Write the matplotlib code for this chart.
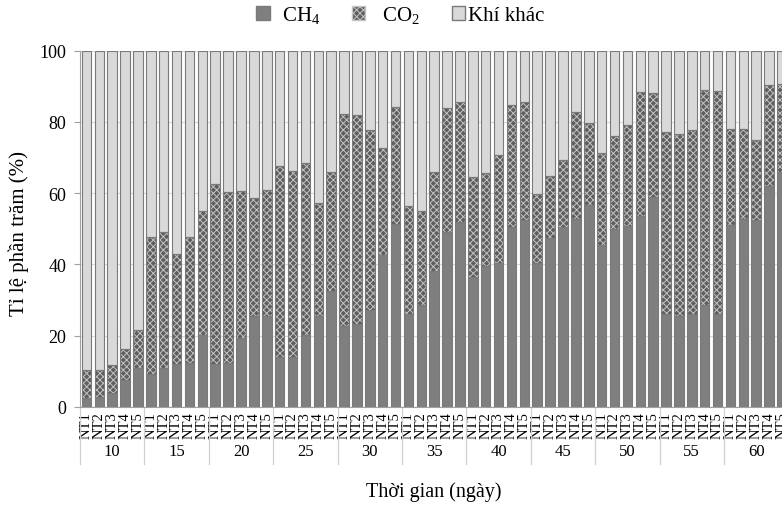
import matplotlib
matplotlib.use("Agg")
import matplotlib.pyplot as plt
import matplotlib.transforms as mtransforms
from matplotlib.patches import Patch
import numpy as np

plt.rcParams['font.family'] = ['Liberation Serif', 'DejaVu Serif']
plt.rcParams['mathtext.fontset'] = 'custom'
plt.rcParams['mathtext.rm'] = 'Liberation Serif'
plt.rcParams['hatch.linewidth'] = 0.7

days = ['10', '15', '20', '25', '30', '35', '40', '45', '50', '55', '60']
treatments = ['NT1', 'NT2', 'NT3', 'NT4', 'NT5']

# % CH4, theo ngày (mỗi dòng: NT1..NT5)
ch4 = [
    [2.4, 2.6, 3.8, 7.5, 11.0],
    [9.2, 11.0, 12.0, 12.3, 20.2],
    [11.9, 12.3, 19.3, 25.6, 25.6],
    [14.0, 14.1, 20.1, 25.6, 32.6],
    [22.6, 23.2, 27.2, 42.6, 51.3],
    [26.0, 28.6, 38.2, 49.2, 52.0],
    [36.4, 39.6, 40.3, 50.4, 52.4],
    [40.4, 47.4, 50.4, 52.6, 56.6],
    [45.5, 49.8, 50.7, 53.7, 59.0],
    [26.1, 25.5, 25.9, 28.7, 26.1],
    [50.9, 52.6, 52.4, 62.0, 66.0],
]
# tổng CH4 + CO2 (%)
ch4_co2 = [
    [10.4, 10.4, 11.7, 16.2, 21.5],
    [47.7, 49.2, 42.9, 47.7, 55.1],
    [62.5, 60.4, 60.6, 58.5, 61.0],
    [67.6, 66.2, 68.4, 57.1, 65.8],
    [82.2, 81.8, 77.7, 72.6, 84.2],
    [56.5, 55.1, 66.0, 83.8, 85.5],
    [64.4, 65.6, 70.7, 84.8, 85.5],
    [59.7, 64.8, 69.3, 82.9, 79.6],
    [71.3, 75.9, 79.1, 88.3, 88.0],
    [77.1, 76.5, 77.7, 89.0, 88.8],
    [78.0, 78.0, 74.9, 90.4, 90.6],
]

ch4_v = np.array(ch4).ravel()
co2_v = np.array(ch4_co2).ravel() - ch4_v
other_v = 100 - ch4_v - co2_v
x = np.arange(len(ch4_v))
labels = treatments * len(days)

fig = plt.figure(figsize=(7.82, 5.06), dpi=100)
ax = fig.add_axes([80 / 782, 1 - 407.7 / 506, 708.4 / 782, 356 / 506])

w = 0.74
edge = '#7a7a7a'
co2_face, co2_hatch = '#5e5e5e', '#c4c4c4'
ax.bar(x, ch4_v, w, color='#7f7f7f', edgecolor=edge, linewidth=0.8, zorder=2)
ax.bar(x, co2_v, w, bottom=ch4_v, color=co2_face, edgecolor=co2_hatch,
       hatch='xxxxx', linewidth=0, zorder=2)
ax.bar(x, co2_v, w, bottom=ch4_v, fill=False, edgecolor=edge, linewidth=0.8, zorder=3)
ax.bar(x, other_v, w, bottom=ch4_v + co2_v, color='#d9d9d9', edgecolor=edge,
       linewidth=0.8, zorder=2)

ax.set_xlim(-0.5, len(x) - 0.5)
ax.set_ylim(0, 100)
ax.set_yticks(range(0, 101, 20))
ax.tick_params(axis='y', labelsize=13, length=4, color='#a0a0a0', pad=6)
ax.grid(axis='y', color='#d9d9d9', linewidth=0.8, zorder=0)
ax.set_axisbelow(True)

ax.set_xticks(x)
ax.set_xticklabels(labels, rotation=90, fontsize=10.5)
ax.tick_params(axis='x', length=0, pad=3)

for s in ['top', 'right']:
    ax.spines[s].set_visible(False)
ax.spines['left'].set_color('#a0a0a0')
ax.spines['bottom'].set_color('#a0a0a0')

trans = mtransforms.blended_transform_factory(ax.transData, ax.transAxes)
for k in range(len(days) + 1):
    ax.plot([k * 5 - 0.5, k * 5 - 0.5], [0, -0.16], transform=trans,
            color='#d0d0d0', linewidth=0.9, clip_on=False)
for k, d in enumerate(days):
    ax.text(k * 5 + 2, -0.124, d, transform=trans, ha='center', va='center', fontsize=12)

ax.text(0.5, -0.236, 'Thời gian (ngày)', transform=ax.transAxes,
        ha='center', va='center', fontsize=14.5)
fig.text(19 / 782, 1 - 234 / 506, 'Tỉ lệ phần trăm (%)', rotation=90,
         ha='center', va='center', fontsize=15)

handles = [
    Patch(facecolor='#7f7f7f', edgecolor=edge, label='  CH$_4$'),
    Patch(facecolor=co2_face, edgecolor=co2_hatch, hatch='xxxxx', label='   CO$_2$'),
    Patch(facecolor='#d9d9d9', edgecolor=edge, label='Khí khác'),
]
fig.legend(handles=handles, loc='center', bbox_to_anchor=(400 / 782, 1 - 16 / 506),
           ncol=3, frameon=False, fontsize=15, handlelength=0.65, handleheight=0.65,
           columnspacing=1.5, handletextpad=0.1)

fig.savefig('out.png', dpi=100)
